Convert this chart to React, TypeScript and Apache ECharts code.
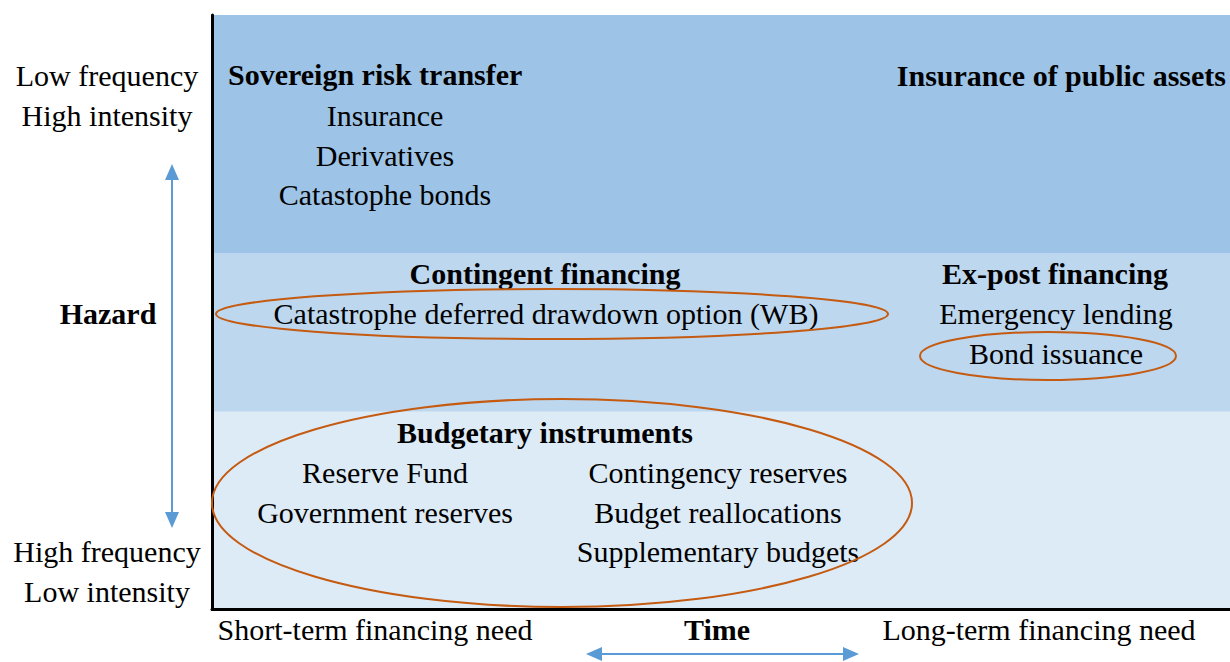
import React, { useEffect, useRef } from "react";
import * as echarts from "echarts";

// ---- content ----
const hazardTopLabels = ["Low frequency", "High intensity"];
const hazardBottomLabels = ["High frequency", "Low intensity"];
const hazardTitle = "Hazard";
const timeTitle = "Time";
const timeLabels = ["Short-term financing need", "Long-term financing need"];

// hazard bands on a 0..3 hazard scale (bottom to top)
const bandNames = ["Budgetary", "Contingent", "Sovereign"];
const bandFrom = [0, 1, 1.8];
const bandTo = [1, 1.8, 3];

const sovereignTitle = "Sovereign risk transfer";
const sovereignItems = ["Insurance", "Derivatives", "Catastophe bonds"];
const publicAssetsTitle = "Insurance of public assets";
const contingentTitle = "Contingent financing";
const contingentItems = ["Catastrophe deferred drawdown option (WB)"];
const expostTitle = "Ex-post financing";
const expostItems = ["Emergency lending", "Bond issuance"];
const budgetTitle = "Budgetary instruments";
const budgetItemsLeft = ["Reserve Fund", "Government reserves"];
const budgetItemsRight = ["Contingency reserves", "Budget reallocations", "Supplementary budgets"];

// ---- styles ----
const BAND_COLORS = ["#DDEBF7", "#BDD7EE", "#9DC3E6"];
const FONT_FAMILY = '"Liberation Serif", "Times New Roman", serif';
const FS = 30;
const LINE = 39.5;
const ARROW = "#5B9BD5";
const RING = "#C55A11";

const font = (bold: boolean) => `${bold ? "bold " : ""}${FS}px ${FONT_FAMILY}`;

function txt(text: string, x: number, y: number, bold = false, align = "center") {
  return {
    type: "text",
    x,
    y: y - 1.5,
    z: 100,
    silent: true,
    style: {
      text,
      fill: "#000",
      font: font(bold),
      textAlign: align,
      textVerticalAlign: "middle",
    },
  };
}

function column(items: string[], x: number, y0: number) {
  return items.map((t, i) => txt(t, x, y0 + i * LINE));
}

export default function App() {
  const ref = useRef<HTMLDivElement>(null);
  useEffect(() => {
    if (!ref.current) return;
    const chart = echarts.init(ref.current, null, { renderer: "svg" });

    const G = { z: 100, silent: true };
    const graphics: any[] = [
      // left hazard labels
      ...column(hazardTopLabels, 107, 77),
      txt(hazardTitle, 108, 315, true),
      ...column(hazardBottomLabels, 107, 553),
      // vertical double arrow
      { type: "line", ...G, shape: { x1: 172, y1: 178, x2: 172, y2: 514 }, style: { stroke: ARROW, lineWidth: 2 } },
      { type: "polygon", ...G, shape: { points: [[172, 164], [165, 180], [179, 180]] }, style: { fill: ARROW } },
      { type: "polygon", ...G, shape: { points: [[172, 528], [165, 512], [179, 512]] }, style: { fill: ARROW } },
      // top band
      txt(sovereignTitle, 228, 76, true, "left"),
      ...column(sovereignItems, 385, 117),
      txt(publicAssetsTitle, 1226, 77, true, "right"),
      // middle band
      txt(contingentTitle, 545, 275, true),
      ...column(contingentItems, 546, 315),
      txt(expostTitle, 1055, 275, true),
      ...column(expostItems, 1056, 315),
      // bottom band
      txt(budgetTitle, 545, 434, true),
      ...column(budgetItemsLeft, 385, 474),
      ...column(budgetItemsRight, 718, 474),
      // ellipses
      { type: "ellipse", ...G, shape: { cx: 552, cy: 314, rx: 336, ry: 25 }, style: { fill: null, stroke: RING, lineWidth: 2 } },
      { type: "ellipse", ...G, shape: { cx: 1048, cy: 356, rx: 128, ry: 24 }, style: { fill: null, stroke: RING, lineWidth: 2 } },
      { type: "ellipse", ...G, shape: { cx: 562, cy: 503, rx: 350, ry: 104 }, style: { fill: null, stroke: RING, lineWidth: 2 } },
      // bottom labels
      txt(timeLabels[0], 375, 631),
      txt(timeTitle, 717, 631, true),
      txt(timeLabels[1], 1039, 631),
      // horizontal double arrow
      { type: "line", ...G, shape: { x1: 600, y1: 654, x2: 845, y2: 654 }, style: { stroke: ARROW, lineWidth: 2 } },
      { type: "polygon", ...G, shape: { points: [[586, 654], [602, 647], [602, 661]] }, style: { fill: ARROW } },
      { type: "polygon", ...G, shape: { points: [[859, 654], [843, 647], [843, 661]] }, style: { fill: ARROW } },
    ];

    chart.setOption({
      animation: false,
      backgroundColor: "#fff",
      grid: { left: 212, top: 15, width: 1018, height: 594 },
      xAxis: {
        type: "value",
        min: 0,
        max: 10,
        z: 10,
        axisLine: { show: true, lineStyle: { color: "#000", width: 3 } },
        axisTick: { show: false },
        axisLabel: { show: false },
        splitLine: { show: false },
      },
      yAxis: {
        type: "value",
        min: 0,
        max: 3,
        z: 10,
        axisLine: { show: true, onZero: false, lineStyle: { color: "#000", width: 3 } },
        axisTick: { show: false },
        axisLabel: { show: false },
        splitLine: { show: false },
      },
      series: [
        {
          type: "custom",
          silent: true,
          z: 1,
          data: bandNames.map((n, i) => ({ name: n, value: [bandFrom[i], bandTo[i], i] })),
          renderItem: (params: any, api: any) => {
            const from = api.value(0);
            const to = api.value(1);
            const idx = api.value(2);
            const p0 = api.coord([0, to]);
            const p1 = api.coord([10, from]);
            return {
              type: "rect",
              shape: { x: p0[0], y: p0[1], width: p1[0] - p0[0], height: p1[1] - p0[1] + 0.5 },
              style: { fill: BAND_COLORS[idx], stroke: null },
            };
          },
        },
      ],
      graphic: graphics,
    });
    return () => chart.dispose();
  }, []);

  return (
    <div
      ref={ref}
      style={{ position: "fixed", left: 0, top: 0, width: 1230, height: 662 }}
    />
  );
}
